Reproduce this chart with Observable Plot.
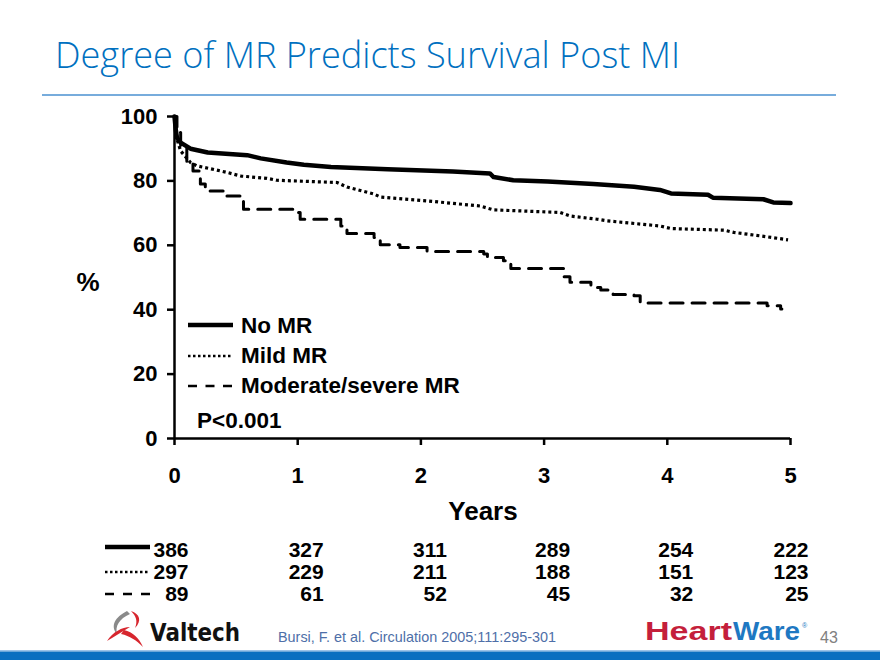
<!DOCTYPE html>
<html><head><meta charset="utf-8">
<script src="https://cdn.jsdelivr.net/npm/d3@7"></script>
<script src="https://cdn.jsdelivr.net/npm/@observablehq/plot@0.6"></script>
<style>
body{margin:0;background:#fff;}
#page{position:relative;width:880px;height:660px;overflow:hidden;background:#fff;font-family:"Liberation Sans",Arial,sans-serif;}
#page > * {position:absolute;left:0;}
</style></head><body><div id="page"></div>
<script>
// ---- data ----
const seriesNames = ["No MR", "Mild MR", "Moderate/severe MR"];

const noMR_years = [0,0.01,0.02,0.05,0.13,0.27,0.59,0.70,0.91,1.05,1.27,1.73,2.26,2.56,2.59,2.75,3.03,3.40,3.73,3.94,4.03,4.33,4.37,4.78,4.86,5.0];
const noMR_surv  = [100,96,93.4,91.9,90.0,88.8,88.0,87.0,85.7,85.0,84.3,83.6,82.9,82.3,81.2,80.2,79.8,79.0,78.2,77.2,76.1,75.7,74.8,74.3,73.3,73.1];

const mild_years = [0,0.02,0.05,0.13,0.18,0.29,0.43,0.54,0.75,0.83,1.32,1.40,1.62,1.67,2.05,2.48,2.59,3.13,3.21,3.43,3.51,3.94,4.03,4.46,4.54,4.76,4.98];
const mild_surv  = [100,93,89.3,85.7,84.7,83.8,82.6,81.5,80.8,80.2,79.5,78.1,75.9,75.0,73.8,72.2,71.0,70.2,69.1,68.1,67.6,66.0,65.2,64.7,64.0,62.9,61.7];

const mod_years = [0,0.02,0.05,0.10,0.15,0.21,0.25,0.40,0.54,0.56,0.97,1.02,1.35,1.40,1.62,1.67,1.83,2.05,2.51,2.54,2.67,2.73,3.16,3.21,3.38,3.46,3.56,3.73,3.78,4.81,4.92,4.93];
const mod_surv  = [100,95,90.3,85.7,83.1,79.0,76.9,75.3,73.8,71.2,70.2,68.1,66.0,63.7,62.4,60.2,59.3,58.1,57.3,56.2,55.2,52.8,50.2,48.5,46.9,46.1,44.7,44.3,42.1,41.2,40.2,40.2];

const atRiskYears = [0,1,2,3,4,5];
const atRisk_noMR = [386,327,311,289,254,222];
const atRisk_mild = [297,229,211,188,151,123];
const atRisk_mod  = [89,61,52,45,32,25];

const yTicks = [0,20,40,60,80,100];
const xTicks = [0,1,2,3,4,5];

const titleText = "Degree of MR Predicts Survival Post MI";
const pText = "P<0.001";
const citation = "Bursi, F. et al. Circulation 2005;111:295-301";
const pageNo = "43";

// ---- build ----
const page = document.getElementById("page");
const FONT = "'Liberation Sans', Arial, sans-serif";
const toRows = (ys, ss) => ys.map((t, i) => ({t, s: ss[i]}));

const NS = "http://www.w3.org/2000/svg";
const ov = document.createElementNS(NS, "svg");
ov.setAttribute("width", 880); ov.setAttribute("height", 660);
ov.style.top = "0px";
ov.innerHTML = `
<text x="55" y="68" font-family="'Open Sans', sans-serif" font-weight="300" font-size="36" fill="#0070C0" textLength="625" lengthAdjust="spacingAndGlyphs">${titleText}</text>
<line x1="42" x2="836" y1="95" y2="95" stroke="#4A90D0" stroke-width="1.5"/>
<g font-family="${FONT}" font-weight="bold" fill="#000">
  <text x="88" y="291" font-size="26" text-anchor="middle">%</text>
  <text x="483" y="520" font-size="26" text-anchor="middle">Years</text>
  <line x1="188" x2="233" y1="325" y2="325" stroke="#000" stroke-width="4.5"/>
  <line x1="188" x2="233" y1="356" y2="356" stroke="#000" stroke-width="2.5" stroke-dasharray="2.5,2.5"/>
  <line x1="188" x2="233" y1="386" y2="386" stroke="#000" stroke-width="2.5" stroke-dasharray="9,8.5"/>
  <text x="241" y="333" font-size="22.5">${seriesNames[0]}</text>
  <text x="241" y="363" font-size="22.5">${seriesNames[1]}</text>
  <text x="241" y="393" font-size="22.5">${seriesNames[2]}</text>
  <text x="197" y="428" font-size="22.5">${pText}</text>
  <line x1="105" x2="150" y1="547" y2="547" stroke="#000" stroke-width="4.5"/>
  <line x1="105" x2="150" y1="572" y2="572" stroke="#000" stroke-width="2.5" stroke-dasharray="2.5,2.5"/>
  <line x1="105" x2="150" y1="594" y2="594" stroke="#000" stroke-width="2.5" stroke-dasharray="9,9"/>
</g>
<g>
  <path d="M127,611 C115,617 110,626 117,634 C115,626 119,619 130,614 Z" fill="#8a8a8a"/>
  <path d="M131,611 C140,614 142,621 135,628 C138,621 136,616 131,611 Z" fill="#d7262e"/>
  <path d="M107,641 C113,632 122,627 130,627 C122,632 115,636 107,641 Z" fill="#d7262e"/>
  <path d="M124,630 C133,632 139,638 143,647 C136,640 130,636 121,634 Z" fill="#d7262e"/>
  <text x="150" y="641" font-family="'DejaVu Sans', sans-serif" font-weight="bold" font-size="25" fill="#111" textLength="90" lengthAdjust="spacingAndGlyphs">Valtech</text>
</g>
<text x="278" y="642" font-family="${FONT}" font-size="15" fill="#4E6FA8" textLength="278" lengthAdjust="spacingAndGlyphs">${citation}</text>
<text x="645" y="640" font-family="${FONT}" font-weight="bold" font-size="25" fill="#C41F3B" textLength="87" lengthAdjust="spacingAndGlyphs">Heart</text>
<text x="733" y="640" font-family="${FONT}" font-weight="bold" font-size="25" fill="#1E78C2" textLength="67" lengthAdjust="spacingAndGlyphs">Ware</text>
<text x="802" y="628" font-family="${FONT}" font-size="7" fill="#1E78C2">®</text>
<text x="820" y="643" font-family="${FONT}" font-size="16" fill="#808080">${pageNo}</text>
<rect x="0" y="650" width="880" height="1.5" fill="#9CC3E8"/>
<rect x="0" y="651.5" width="880" height="9" fill="#0A6FC0"/>
`;
page.appendChild(ov);

// main chart
const chart = Plot.plot({
  width: 880, height: 420,
  marginLeft: 174, marginRight: 90, marginTop: 16, marginBottom: 82,
  x: {domain: [0, 5]},
  y: {domain: [0, 100]},
  style: {fontFamily: FONT, fontSize: "22px", fontWeight: "bold", color: "#000", background: "transparent", overflow: "visible"},
  marks: [
    Plot.axisY({ticks: yTicks, tickSize: 7, tickPadding: 10, strokeWidth: 2.5, label: null, tickFormat: d3.format("d")}),
    Plot.axisX({ticks: xTicks, tickSize: 7, tickPadding: 22, strokeWidth: 2.5, label: null, tickFormat: d3.format("d")}),
    Plot.ruleX([0], {strokeWidth: 2.5}),
    Plot.ruleY([0], {strokeWidth: 2.5}),
    Plot.line(toRows(mod_years, mod_surv), {x: "t", y: "s", curve: "step-after", stroke: "#000", strokeWidth: 3, strokeDasharray: "13,9"}),
    Plot.line(toRows(mild_years, mild_surv), {x: "t", y: "s", stroke: "#000", strokeWidth: 3.2, strokeDasharray: "3,3", strokeLinecap: "butt"}),
    Plot.line(toRows(noMR_years, noMR_surv), {x: "t", y: "s", stroke: "#000", strokeWidth: 4.5})
  ]
});
chart.style.top = "100px";
page.appendChild(chart);

// numbers at risk
const riskRows = [];
[atRisk_noMR, atRisk_mild, atRisk_mod].forEach((arr, k) =>
  atRiskYears.forEach((yr, i) => riskRows.push({series: seriesNames[k], year: yr, n: arr[i]})));
const table = Plot.plot({
  width: 880, height: 75,
  marginLeft: 174, marginRight: 90, marginTop: 14, marginBottom: 16,
  x: {domain: [0, 5], axis: null},
  y: {type: "point", domain: seriesNames, padding: 0, axis: null},
  style: {fontFamily: FONT, fontSize: "21px", fontWeight: "bold", color: "#000", background: "transparent", overflow: "visible"},
  marks: [
    Plot.text(riskRows.filter(d => d.year === 0), {x: "year", y: "series", text: "n", textAnchor: "end", dx: 14}),
    Plot.text(riskRows.filter(d => d.year > 0 && d.year < 5), {x: "year", y: "series", text: "n", textAnchor: "end", dx: 26}),
    Plot.text(riskRows.filter(d => d.year === 5), {x: "year", y: "series", text: "n", textAnchor: "end", dx: 18})
  ]
});
table.style.top = "535px";
page.appendChild(table);
</script>
</body></html>
